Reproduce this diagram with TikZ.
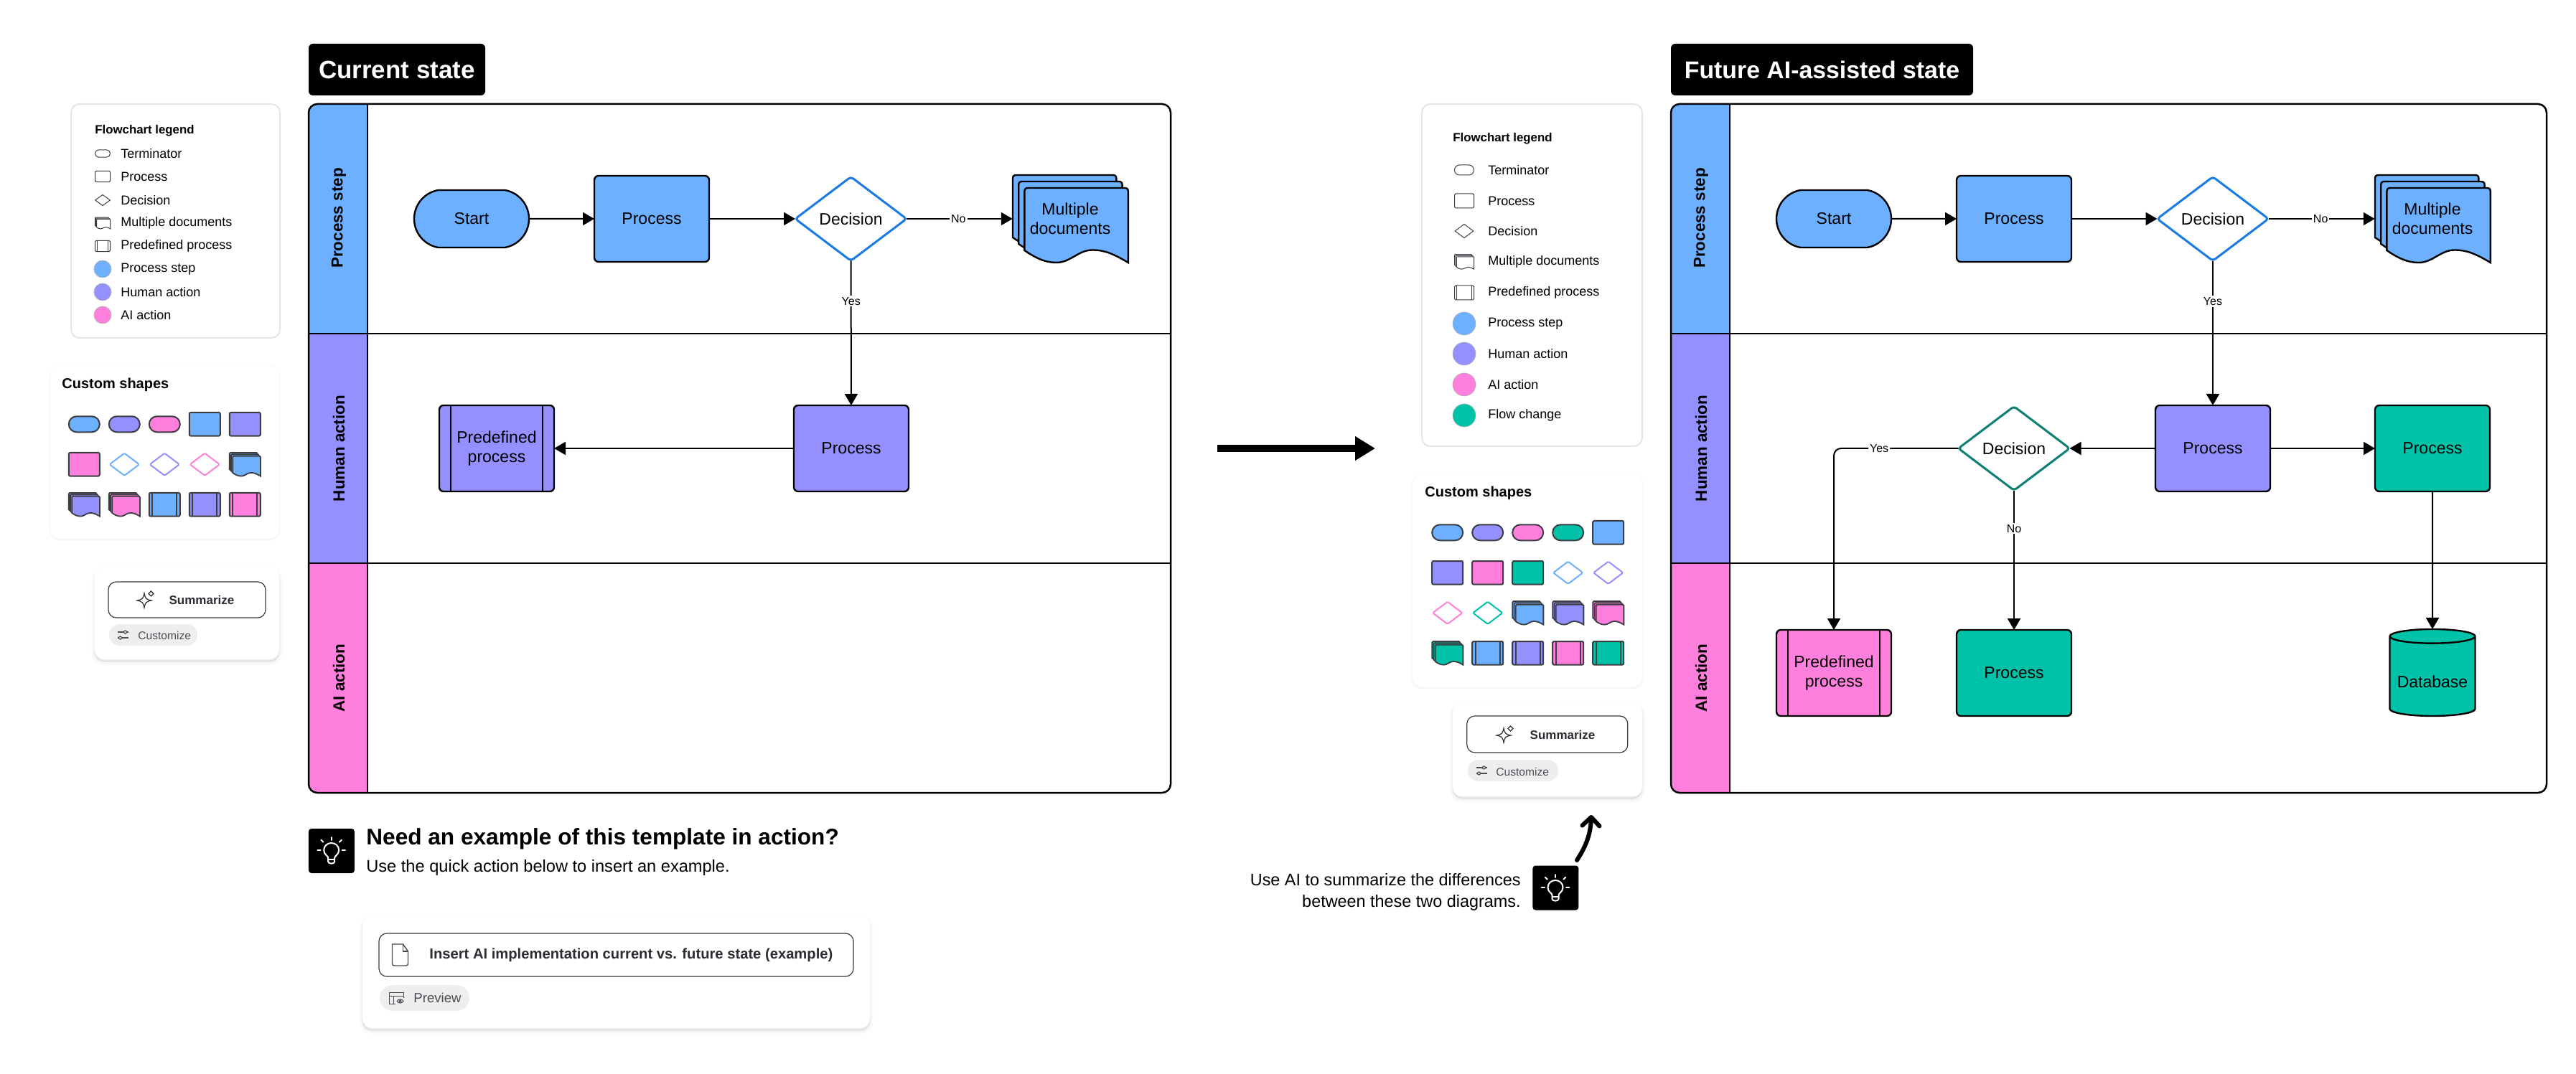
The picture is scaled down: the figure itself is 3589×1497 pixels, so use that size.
\documentclass[tikz,border=0pt]{standalone}
\usepackage{fontspec}
\setmainfont{Liberation Sans}
\usepackage{tikz}
\usetikzlibrary{shapes.geometric}
\usetikzlibrary{shapes.misc}
\usetikzlibrary{shadows}
\usetikzlibrary{arrows.meta}

\definecolor{stepblue}{HTML}{6CB0FF}
\definecolor{humanpurple}{HTML}{9590FF}
\definecolor{aipink}{HTML}{FF7FDC}
\definecolor{flowgreen}{HTML}{00C2A8}
\definecolor{decblue}{HTML}{1B7BE4}
\definecolor{decteal}{HTML}{0E8073}
\definecolor{icongray}{HTML}{3B3D42}
\definecolor{cardline}{HTML}{E2E6EC}
\definecolor{pillgray}{HTML}{EEEEEE}
\definecolor{inktext}{HTML}{2B2D33}
\definecolor{softtext}{HTML}{4A4C54}

\newcommand{\boxfont}{\fontsize{11.5}{13.5}\selectfont}
\newcommand{\tagfont}{\fontsize{8}{9}\selectfont}
\newcommand{\itemfont}{\fontsize{9}{10}\selectfont}

\begin{document}
\begin{tikzpicture}
[x=0.5pt,y=-0.5pt,
 termbox/.style={shape=rounded rectangle,rounded rectangle arc length=160,draw,line width=1.2pt,minimum width=80pt,minimum height=40pt,inner sep=0pt,outer sep=0pt,font=\boxfont},
 procbox/.style={shape=rectangle,draw,line width=1.2pt,rounded corners=3pt,minimum width=80pt,minimum height=60pt,inner sep=0pt,outer sep=0pt,align=center,font=\boxfont},
 decbox/.style={shape=diamond,draw,line width=1.5pt,rounded corners=2pt,fill=white,minimum width=77.5pt,minimum height=58.5pt,inner sep=0pt,outer sep=0pt,font=\boxfont},
 predline/.style={path picture={
   \draw ([xshift=#1]path picture bounding box.north west) -- ([xshift=#1]path picture bounding box.south west);
   \draw ([xshift=-#1]path picture bounding box.north east) -- ([xshift=-#1]path picture bounding box.south east);}},
 docbox/.style={shape=rectangle,minimum width=80.25pt,minimum height=60.75pt,inner sep=0pt,outer sep=0pt,align=center,font=\boxfont},
 dbbox/.style={shape=cylinder,shape border rotate=90,aspect=.2,draw,line width=1.2pt,minimum width=59.5pt,minimum height=60.5pt,inner sep=0pt,outer sep=0pt,text height=15.9pt,text depth=0pt,font=\boxfont},
 flow/.style={line width=1pt,-{Triangle[length=8pt,width=9pt]}},
 edgetag/.style={fill=white,inner sep=1pt,font=\tagfont},
 lanetext/.style={rotate=90,font=\fontsize{11.2}{12}\bfseries\selectfont},
 laneline/.style={line width=1.25pt},
 titlebox/.style={shape=rectangle,fill=black,text=white,rounded corners=3pt,inner sep=0pt,font=\fontsize{17.5}{20}\bfseries\selectfont},
 legendcard/.style={shape=rectangle,draw=cardline,line width=1pt,fill=white,rounded corners=6pt,inner sep=0pt},
 softcard/.style={shape=rectangle,fill=white,rounded corners=6.5pt,inner sep=0pt,
   general shadow={fill=black,draw=black,line width=5pt,opacity=.012,shadow yshift=-2pt},
   general shadow={fill=black,draw=black,line width=3pt,opacity=.018,shadow yshift=-2pt},
   general shadow={fill=black,draw=black,line width=1pt,opacity=.03,shadow yshift=-1.5pt}},
 plaincard/.style={shape=rectangle,fill=white,rounded corners=6.5pt,inner sep=0pt,
   general shadow={fill=black,draw=black,line width=2pt,opacity=.012,shadow yshift=0pt},
   general shadow={fill=black,draw=black,line width=1pt,opacity=.02,shadow yshift=-.5pt}},
 itemtext/.style={right,inner sep=0pt,font=\itemfont},
 headtext/.style={right,inner sep=0pt,font=\fontsize{8.4}{10}\bfseries\selectfont},
 shapehead/.style={right,inner sep=0pt,font=\fontsize{10}{12}\bfseries\selectfont},
 lterm/.style={shape=rounded rectangle,draw=icongray,line width=.5pt,minimum width=10.5pt,minimum height=5.2pt,inner sep=0pt},
 lproc/.style={shape=rectangle,draw=icongray,line width=.5pt,rounded corners=.7pt,minimum width=10.5pt,minimum height=7.6pt,inner sep=0pt},
 ldec/.style={shape=diamond,draw=icongray,line width=.5pt,minimum width=10.5pt,minimum height=7.8pt,inner sep=0pt},
 lcirc/.style={shape=circle,draw=black!30,line width=.3pt,minimum size=12pt,inner sep=0pt},
 rterm/.style={shape=rounded rectangle,draw=icongray,line width=.5pt,minimum width=13.5pt,minimum height=7pt,inner sep=0pt},
 rproc/.style={shape=rectangle,draw=icongray,line width=.5pt,rounded corners=.8pt,minimum width=13.5pt,minimum height=10pt,inner sep=0pt},
 rdec/.style={shape=diamond,draw=icongray,line width=.5pt,minimum width=13pt,minimum height=9.8pt,inner sep=0pt},
 rcirc/.style={shape=circle,draw=black!30,line width=.3pt,minimum size=16pt,inner sep=0pt},
 cterm/.style={shape=rounded rectangle,draw=icongray,line width=1pt,minimum width=21.5pt,minimum height=11pt,inner sep=0pt},
 cproc/.style={shape=rectangle,draw=icongray,line width=1pt,rounded corners=1pt,minimum width=21.5pt,minimum height=16.3pt,inner sep=0pt},
 cdec/.style={shape=diamond,draw=#1,line width=1pt,rounded corners=.8pt,fill=white,minimum width=21pt,minimum height=16pt,inner sep=0pt},
 actbutton/.style={shape=rectangle,draw=icongray,line width=.6pt,fill=white,rounded corners=5.5pt,inner sep=0pt},
 actpill/.style={shape=rounded rectangle,fill=pillgray,inner sep=0pt},
 acttext/.style={inner sep=0pt,text=inktext,font=\fontsize{8.5}{10}\bfseries\selectfont},
 pilltext/.style={right,inner sep=0pt,text=softtext,font=\fontsize{7.8}{9}\selectfont},
 tipbox/.style={shape=rectangle,fill=black,rounded corners=2pt,minimum width=32pt,minimum height=31pt,inner sep=0pt},
 sheets/.pic={
   \foreach \dx/\dy in {0/0,8.2/9,16.4/18}
     \path [pic actions,shift={(\dx,\dy)}] (-80,-56) .. controls (-80,-59.5) and (-78.5,-61) .. (-75,-61) -- (59.4,-61) .. controls (62.9,-61) and (64.4,-59.5) .. (64.4,-56) -- (64.4,43) .. controls (44,31) and (32,25.5) .. (14.4,25.5) .. controls (-5,25.5) and (-16,43) .. (-35.6,43) .. controls (-53,43) and (-67,35) .. (-80,26) -- cycle;
 },
 sparkle/.pic={
   \path [pic actions] (0,-10) .. controls (1.5,-2.5) and (2.5,-1.5) .. (10,0) .. controls (2.5,1.5) and (1.5,2.5) .. (0,10) .. controls (-1.5,2.5) and (-2.5,1.5) .. (-10,0) .. controls (-2.5,-1.5) and (-1.5,-2.5) .. (0,-10) -- cycle;
   \path [pic actions] (9.5,-13) -- (13,-9.5) -- (9.5,-6) -- (6,-9.5) -- cycle;
 },
 sliders/.pic={
   \path [pic actions] (-7.5,-4) -- (1.5,-4) (5.5,-4) -- (7.5,-4);
   \path [pic actions] (3.5,-4) circle [radius=1pt];
   \path [pic actions] (-7.5,4) -- (-5.5,4) (-1.5,4) -- (7.5,4);
   \path [pic actions] (-3.5,4) circle [radius=1pt];
 },
 bulb/.pic={
   \path [pic actions] (-4.5,10) .. controls (-4,7) and (-10.5,5.5) .. (-10.5,-1) .. controls (-10.5,-7) and (-5.5,-11) .. (0,-11) .. controls (5.5,-11) and (10.5,-7) .. (10.5,-1) .. controls (10.5,5.5) and (4,7) .. (4.5,10) -- (4.5,15) .. controls (4.5,18.5) and (-4.5,18.5) .. (-4.5,15) -- cycle;
   \path [pic actions] (-4.5,12) -- (4.5,12);
   \path [pic actions] (0,-19) -- (0,-15);
   \path [pic actions] (-14.3,-15.3) -- (-11.2,-12.3);
   \path [pic actions] (14.3,-15.3) -- (11.2,-12.3);
   \path [pic actions] (-19.3,-1) -- (-15,-1);
   \path [pic actions] (19.3,-1) -- (15,-1);
 },
 fileicon/.pic={
   \path [pic actions] (-11,-15) -- (4,-15) -- (11,-5) -- (11,12) .. controls (11,14) and (10,15) .. (8,15) -- (-8,15) .. controls (-10,15) and (-11,14) .. (-11,12) -- cycle;
   \path [pic actions] (4,-15) -- (4,-5) -- (11,-5);
 },
 previewicon/.pic={
   \path [pic actions] (-1,8) -- (-10,8) -- (-10,-8) -- (10,-8) -- (10,0);
   \path [pic actions] (-10,-3) -- (10,-3) (-4,-3) -- (-4,8);
   \path [pic actions] (1,4.5) .. controls (3,1) and (8,1) .. (10,4.5) .. controls (8,8) and (3,8) .. (1,4.5) -- cycle;
   \path [pic actions] (5.5,4.5) circle [radius=.8pt];
 }]

\useasboundingbox (0,0) rectangle (3589,1497);

\draw (244.5,308) node (legend1) [legendcard,minimum width=145.5pt,minimum height=163pt] {};

\draw (132,182) node (legend1t) [headtext] {Flowchart legend};

\draw (143,214) node (l1a) [lterm] {};
\draw (168,214) node (l1at) [itemtext] {Terminator};

\draw (143,246) node (l1b) [lproc] {};
\draw (168,246) node (l1bt) [itemtext] {Process};

\draw (143,279) node (l1c) [ldec] {};
\draw (168,279) node (l1ct) [itemtext] {Decision};

\pic (l1d) [draw=icongray,line width=.5pt,fill=white,scale=.131] at (143,311) {sheets};
\draw (168,311) node (l1dt) [itemtext] {Multiple documents};

\draw (143,343) node (l1e) [lproc,predline=1.4pt] {};
\draw (168,343) node (l1et) [itemtext] {Predefined process};

\draw (143,375) node (l1f) [lcirc,fill=stepblue] {};
\draw (168,375) node (l1ft) [itemtext] {Process step};

\draw (143,407) node (l1g) [lcirc,fill=humanpurple] {};
\draw (168,407) node (l1gt) [itemtext] {Human action};

\draw (143,439) node (l1h) [lcirc,fill=aipink] {};
\draw (168,439) node (l1ht) [itemtext] {AI action};

\draw (229.5,631) node (shapes1) [plaincard,minimum width=159.5pt,minimum height=120pt] {};

\draw (86,536) node (shapes1t) [shapehead] {Custom shapes};

\draw (117.3,591.3) node (c1a) [cterm,fill=stepblue] {};
\draw (173.3,591.3) node (c1b) [cterm,fill=humanpurple] {};
\draw (229.3,591.3) node (c1c) [cterm,fill=aipink] {};
\draw (285.3,591.3) node (c1d) [cproc,fill=stepblue] {};
\draw (341.3,591.3) node (c1e) [cproc,fill=humanpurple] {};

\draw (117.3,647.3) node (c1f) [cproc,fill=aipink] {};
\draw (173.3,647.3) node (c1g) [cdec=stepblue] {};
\draw (229.3,647.3) node (c1h) [cdec=humanpurple] {};
\draw (285.3,647.3) node (c1i) [cdec=aipink] {};
\pic (c1j) [draw=icongray,line width=.9pt,fill=stepblue,scale=.268] at (341.3,647.3) {sheets};

\pic (c1k) [draw=icongray,line width=.9pt,fill=humanpurple,scale=.268] at (117.3,703.3) {sheets};
\pic (c1l) [draw=icongray,line width=.9pt,fill=aipink,scale=.268] at (173.3,703.3) {sheets};
\draw (229.3,703.3) node (c1m) [cproc,fill=stepblue,predline=2.2pt] {};
\draw (285.3,703.3) node (c1n) [cproc,fill=humanpurple,predline=2.2pt] {};
\draw (341.3,703.3) node (c1o) [cproc,fill=aipink,predline=2.2pt] {};

\draw (260.5,855) node (act1) [softcard,minimum width=128.5pt,minimum height=64pt] {};

\draw (260.5,836) node (act1b) [actbutton,minimum width=109.5pt,minimum height=25pt] {};
\pic [draw=inktext,line width=.6pt] at (201,837) {sparkle};
\draw (281,836) node (act1t) [acttext] {Summarize};

\draw (213.5,885) node (act1p) [actpill,minimum width=61.5pt,minimum height=15pt] {};
\pic [draw=softtext,line width=.6pt] at (171,885) {sliders};
\draw (192,886) node (act1pt) [pilltext] {Customize};

\draw (553,97) node (title1) [titlebox,minimum width=123pt,minimum height=36pt] {Current state};

\begin{scope}
\clip [rounded corners=6pt] (430,145) rectangle (1631,1105);
\fill [stepblue] (430,145) rectangle (512,465);
\fill [humanpurple] (430,465) rectangle (512,785);
\fill [aipink] (430,785) rectangle (512,1105);
\end{scope}

\draw [laneline,rounded corners=6pt] (430,145) rectangle (1631,1105);
\draw [laneline] (512,145) -- (512,1105);
\draw [laneline] (430,465) -- (1631,465);
\draw [laneline] (430,785) -- (1631,785);

\draw (472,304) node (head1a) [lanetext] {Process step};
\draw (472,625) node (head1b) [lanetext] {Human action};
\draw (472,945) node (head1c) [lanetext] {AI action};

\draw (657,305) node (start1) [termbox,fill=stepblue] {Start};

\draw (908,305) node (proc1a) [procbox,fill=stepblue] {Process};

\draw (1185.5,305) node (dec1) [decbox,draw=decblue] {Decision};

\pic (docs1) [draw,line width=1.2pt,fill=stepblue] at (1491,305) {sheets};
\draw (1491,305) node (mdoc1) [docbox] {Multiple\\documents};

\draw (1186,625) node (proc1b) [procbox,fill=humanpurple] {Process};

\draw (692,625) node (pred1) [procbox,fill=humanpurple,predline=8pt] {Predefined\\process};

\draw [flow] (start1) -- (proc1a);

\draw [flow] (proc1a) -- (dec1);

\draw [flow] (dec1) -- (mdoc1) node [edgetag,pos=.49] {No};

\draw [flow] (dec1) -- (proc1b) node [edgetag,pos=.28] {Yes};

\draw [flow] (proc1b) -- (pred1);

\coordinate (shift0) at (1696,625);
\coordinate (shift1) at (1916,625);
\draw [line width=5pt,-{Triangle[length=14pt,width=16pt]}] (shift0) -- (shift1);

\draw (429.5,1186) node (tip1) [tipbox,right] {};
\pic [draw=white,line width=1pt,line cap=round] at (461.7,1186) {bulb};

\draw (510,1169) node (need1) [right,inner sep=0pt,font=\fontsize{15.8}{18}\bfseries\selectfont] {Need an example of this template in action?};
\draw (510,1209) node (need2) [right,inner sep=0pt,font=\fontsize{11.8}{14}\selectfont] {Use the quick action below to insert an example.};

\draw (858.5,1355) node (act2) [softcard,minimum width=353.5pt,minimum height=78pt] {};

\draw (858.5,1331) node (act2b) [actbutton,minimum width=330.5pt,minimum height=30pt] {};
\pic [draw=softtext,line width=.7pt] at (557.5,1331) {fileicon};
\draw (598,1331) node (act2t) [right,inner sep=0pt,text=inktext,font=\fontsize{10.1}{12}\bfseries\selectfont] {Insert AI implementation current vs. future state (example)};

\draw (591.5,1391) node (act2p) [actpill,minimum width=62.5pt,minimum height=18pt] {};
\pic [draw=softtext,line width=.5pt] at (552,1391) {previewicon};
\draw (576,1391) node (act2pt) [right,inner sep=0pt,text=softtext,font=\fontsize{9.3}{11}\selectfont] {Preview};

\draw (2134.5,383.5) node (legend2) [legendcard,minimum width=153.5pt,minimum height=238.5pt] {};

\draw (2024,193) node (legend2t) [headtext] {Flowchart legend};

\draw (2040,237) node (l2a) [rterm] {};
\draw (2073,237) node (l2at) [itemtext] {Terminator};

\draw (2040,280) node (l2b) [rproc] {};
\draw (2073,280) node (l2bt) [itemtext] {Process};

\draw (2040,322) node (l2c) [rdec] {};
\draw (2073,322) node (l2ct) [itemtext] {Decision};

\pic (l2d) [draw=icongray,line width=.5pt,fill=white,scale=.168] at (2040,365) {sheets};
\draw (2073,365) node (l2dt) [itemtext] {Multiple documents};

\draw (2040,408) node (l2e) [rproc,predline=1.6pt] {};
\draw (2073,408) node (l2et) [itemtext] {Predefined process};

\draw (2040,451) node (l2f) [rcirc,fill=stepblue] {};
\draw (2073,451) node (l2ft) [itemtext] {Process step};

\draw (2040,493) node (l2g) [rcirc,fill=humanpurple] {};
\draw (2073,493) node (l2gt) [itemtext] {Human action};

\draw (2040,536) node (l2h) [rcirc,fill=aipink] {};
\draw (2073,536) node (l2ht) [itemtext] {AI action};

\draw (2040,579) node (l2i) [rcirc,fill=flowgreen] {};
\draw (2073,579) node (l2it) [itemtext] {Flow change};

\draw (2128,810) node (shapes2) [plaincard,minimum width=160pt,minimum height=148pt] {};

\draw (1985,687) node (shapes2t) [shapehead] {Custom shapes};

\draw (2016.7,742.3) node (c2a) [cterm,fill=stepblue] {};
\draw (2072.7,742.3) node (c2b) [cterm,fill=humanpurple] {};
\draw (2128.7,742.3) node (c2c) [cterm,fill=aipink] {};
\draw (2184.7,742.3) node (c2d) [cterm,fill=flowgreen] {};
\draw (2240.7,742.3) node (c2e) [cproc,fill=stepblue] {};

\draw (2016.7,798.3) node (c2f) [cproc,fill=humanpurple] {};
\draw (2072.7,798.3) node (c2g) [cproc,fill=aipink] {};
\draw (2128.7,798.3) node (c2h) [cproc,fill=flowgreen] {};
\draw (2184.7,798.3) node (c2i) [cdec=stepblue] {};
\draw (2240.7,798.3) node (c2j) [cdec=humanpurple] {};

\draw (2016.7,854.3) node (c2k) [cdec=aipink] {};
\draw (2072.7,854.3) node (c2l) [cdec=flowgreen] {};
\pic (c2m) [draw=icongray,line width=.9pt,fill=stepblue,scale=.268] at (2128.7,854.3) {sheets};
\pic (c2n) [draw=icongray,line width=.9pt,fill=humanpurple,scale=.268] at (2184.7,854.3) {sheets};
\pic (c2o) [draw=icongray,line width=.9pt,fill=aipink,scale=.268] at (2240.7,854.3) {sheets};

\pic (c2p) [draw=icongray,line width=.9pt,fill=flowgreen,scale=.268] at (2016.7,910.3) {sheets};
\draw (2072.7,910.3) node (c2q) [cproc,fill=stepblue,predline=2.2pt] {};
\draw (2128.7,910.3) node (c2r) [cproc,fill=humanpurple,predline=2.2pt] {};
\draw (2184.7,910.3) node (c2s) [cproc,fill=aipink,predline=2.2pt] {};
\draw (2240.7,910.3) node (c2t) [cproc,fill=flowgreen,predline=2.2pt] {};

\draw (2156,1044) node (act3) [softcard,minimum width=132pt,minimum height=66pt] {};

\draw (2155.8,1023.5) node (act3b) [actbutton,minimum width=112pt,minimum height=25.5pt] {};
\pic [draw=inktext,line width=.6pt] at (2095,1025) {sparkle};
\draw (2177,1024) node (act3t) [acttext] {Summarize};

\draw (2108,1074) node (act3p) [actpill,minimum width=63pt,minimum height=15pt] {};
\pic [draw=softtext,line width=.6pt] at (2064,1074) {sliders};
\draw (2084,1076) node (act3pt) [pilltext] {Customize};

\draw (2119,1226) node (say1) [left,inner sep=0pt,font=\fontsize{11.7}{14}\selectfont] {Use AI to summarize the differences};
\draw (2119,1258) node (say2) [left,inner sep=0pt,font=\fontsize{11.7}{14}\selectfont] {between these two diagrams.};

\draw (2135,1237.5) node (tip2) [tipbox,right] {};
\pic [draw=white,line width=1pt,line cap=round] at (2167,1238) {bulb};

\coordinate (curve0) at (2197,1199);
\coordinate (curve1) at (2217,1136);
\draw [line width=3pt,line cap=round,-{Straight Barb[length=6pt,width=12pt,round]}] (curve0) .. controls (2208,1182) and (2216,1165) .. (curve1);

\draw (2538.5,97) node (title2) [titlebox,minimum width=210.5pt,minimum height=36pt,font=\fontsize{16.9}{20}\bfseries\selectfont] {Future AI-assisted state};

\begin{scope}
\clip [rounded corners=6pt] (2328,145) rectangle (3548,1105);
\fill [stepblue] (2328,145) rectangle (2410,465);
\fill [humanpurple] (2328,465) rectangle (2410,785);
\fill [aipink] (2328,785) rectangle (2410,1105);
\end{scope}

\draw [laneline,rounded corners=6pt] (2328,145) rectangle (3548,1105);
\draw [laneline] (2410,145) -- (2410,1105);
\draw [laneline] (2328,465) -- (3548,465);
\draw [laneline] (2328,785) -- (3548,785);

\draw (2370,304) node (head2a) [lanetext] {Process step};
\draw (2370,625) node (head2b) [lanetext] {Human action};
\draw (2370,945) node (head2c) [lanetext] {AI action};

\draw (2555,305) node (start2) [termbox,fill=stepblue] {Start};

\draw (2806,305) node (proc2a) [procbox,fill=stepblue] {Process};

\draw (3083,305) node (dec2a) [decbox,draw=decblue] {Decision};

\pic (docs2) [draw,line width=1.2pt,fill=stepblue] at (3389,305) {sheets};
\draw (3389,305) node (mdoc2) [docbox] {Multiple\\documents};

\draw (3083,625) node (proc2b) [procbox,fill=humanpurple] {Process};

\draw (3389,625) node (proc2c) [procbox,fill=flowgreen] {Process};

\draw (2806,625) node (dec2b) [decbox,draw=decteal] {Decision};

\draw (2555,938) node (pred2) [procbox,fill=aipink,predline=8pt] {Predefined\\process};

\draw (2806,938) node (proc2d) [procbox,fill=flowgreen] {Process};

\draw (3389,943) node (db2) [dbbox,fill=flowgreen] {Database};

\draw [flow] (start2) -- (proc2a);

\draw [flow] (proc2a) -- (dec2a);

\draw [flow] (dec2a) -- (mdoc2) node [edgetag,pos=.49] {No};

\draw [flow] (dec2a) -- (proc2b) node [edgetag,pos=.28] {Yes};

\draw [flow] (proc2b) -- (dec2b);

\draw [flow] (proc2b) -- (proc2c);

\draw [flow] (proc2c) -- (db2);

\draw [flow,rounded corners=5pt] (dec2b) -| (pred2) node [edgetag,pos=.318] {Yes};

\draw [flow] (dec2b) -- (proc2d) node [edgetag,pos=.273] {No};

\end{tikzpicture}
\end{document}
